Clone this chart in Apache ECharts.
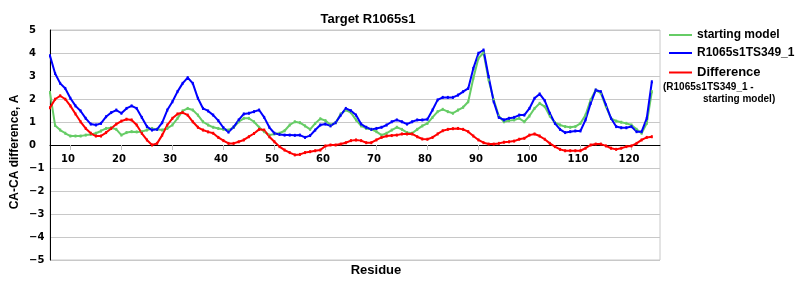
<!DOCTYPE html>
<html>
<head>
<meta charset="utf-8">
<script src="https://cdn.jsdelivr.net/npm/echarts@6/dist/echarts.min.js"></script>
<style>html,body{margin:0;padding:0;background:#fff}#c{width:800px;height:300px}</style>
</head>
<body>
<div id="c"></div>
<script>
const residues = [6,7,8,9,10,11,12,13,14,15,16,17,18,19,20,21,22,23,24,25,26,27,28,29,30,31,32,33,34,35,36,37,38,39,40,41,42,43,44,45,46,47,48,49,50,51,52,53,54,55,56,57,58,59,60,61,62,63,64,65,66,67,68,69,70,71,72,73,74,75,76,77,78,79,80,81,82,83,84,85,86,87,88,89,90,91,92,93,94,95,96,97,98,99,100,101,102,103,104,105,106,107,108,109,110,111,112,113,114,115,116,117,118,119,120,121,122,123,124];

const startingModel = [
2.28,0.85,0.65,0.51,0.39,0.39,0.39,0.43,0.46,0.51,
0.61,0.72,0.75,0.68,0.43,0.54,0.58,0.57,0.58,0.65,
0.72,0.68,0.65,0.72,0.87,1.16,1.48,1.59,1.52,1.30,
1.01,0.87,0.77,0.72,0.68,0.65,0.77,1.01,1.16,1.16,
1.01,0.77,0.58,0.43,0.48,0.51,0.62,0.87,1.01,0.97,
0.83,0.68,0.94,1.14,1.06,0.87,0.97,1.35,1.52,1.41,
1.09,0.83,0.72,0.68,0.58,0.43,0.51,0.65,0.77,0.68,
0.54,0.51,0.68,0.83,0.94,1.20,1.45,1.55,1.45,1.38,
1.52,1.64,1.88,2.90,3.77,4.01,2.83,1.96,1.26,1.01,
1.06,1.09,1.16,1.01,1.26,1.59,1.81,1.67,1.26,0.97,
0.87,0.80,0.77,0.80,0.94,1.30,1.96,2.39,2.25,1.67,
1.16,1.04,0.99,0.94,0.87,0.68,0.51,0.94,2.32];

const model349 = [
3.88,3.11,2.68,2.46,2.03,1.70,1.48,1.16,0.91,0.87,
0.94,1.23,1.41,1.52,1.38,1.59,1.70,1.59,1.20,0.80,
0.65,0.68,0.97,1.52,1.88,2.32,2.68,2.93,2.68,2.03,
1.59,1.48,1.30,1.06,0.75,0.56,0.78,1.09,1.35,1.38,
1.45,1.52,1.20,0.77,0.51,0.46,0.43,0.43,0.42,0.43,
0.33,0.41,0.65,0.87,0.91,0.83,0.97,1.30,1.59,1.49,
1.30,0.91,0.77,0.68,0.72,0.77,0.87,1.01,1.09,1.01,
0.91,1.01,1.09,1.09,1.12,1.52,1.96,2.07,2.07,2.07,
2.17,2.32,2.46,3.33,3.99,4.13,2.97,1.88,1.20,1.09,
1.16,1.20,1.30,1.30,1.59,2.03,2.22,1.93,1.38,0.94,
0.68,0.54,0.58,0.61,0.61,1.09,1.81,2.39,2.32,1.74,
1.16,0.80,0.75,0.75,0.80,0.58,0.58,1.16,2.75];

const difference = [
1.62,1.99,2.14,1.99,1.70,1.35,1.01,0.72,0.51,0.39,
0.39,0.54,0.72,0.91,1.04,1.12,1.09,0.87,0.51,0.22,
0.00,0.07,0.43,0.87,1.16,1.35,1.41,1.30,1.01,0.77,
0.65,0.57,0.51,0.33,0.19,0.07,0.07,0.14,0.22,0.36,
0.50,0.68,0.65,0.36,0.14,-0.07,-0.22,-0.33,-0.43,-0.41,
-0.33,-0.29,-0.25,-0.22,-0.04,0.00,0.00,0.04,0.10,0.19,
0.22,0.19,0.10,0.10,0.22,0.33,0.39,0.41,0.43,0.48,
0.48,0.48,0.36,0.26,0.25,0.33,0.48,0.62,0.68,0.71,
0.72,0.68,0.58,0.39,0.22,0.10,0.04,0.04,0.07,0.12,
0.14,0.17,0.25,0.29,0.43,0.48,0.39,0.25,0.07,-0.07,
-0.19,-0.25,-0.25,-0.25,-0.25,-0.14,0.00,0.04,0.04,-0.04,
-0.14,-0.19,-0.14,-0.07,-0.04,0.07,0.22,0.33,0.36];

const xTicks = [10,20,30,40,50,60,70,80,90,100,110,120];
const seriesNames = ['starting model','R1065s1TS349_1','Difference'];
const seriesColors = ['#66cc66','#0000ff','#ff0000'];

const chart = echarts.init(document.getElementById('c'), null, {renderer:'canvas'});
const pairs = arr => residues.map((r,i)=>[r, arr[i]]);
const lineSeries = (name, color, data) => ({
  name, type:'line', data: pairs(data), color,
  symbol:'rect', symbolSize:[2,3], showSymbol:true, showAllSymbol:true,
  lineStyle:{color, width:2}, itemStyle:{color}, animation:false, z: 3
});
const legendText = {fontFamily:'Liberation Sans', fontWeight:'bold', fontSize:12, color:'#000'};
const mkLegend = (name, top, fs) => ({
  data:[{name, icon:'rect'}], orient:'vertical', left:669, top, itemWidth:23, itemHeight:2,
  itemGap:0, padding:0, textStyle:Object.assign({}, legendText, {fontSize:fs}), selectedMode:false
});

chart.setOption({
  backgroundColor:'#fff',
  animation:false,
  title:{text:'Target R1065s1', left:363, top:8, textAlign:'center',
    textStyle:{fontFamily:'Liberation Sans', fontWeight:'bold', fontSize:13, color:'#000'}},
  legend:[mkLegend(seriesNames[0],29,12), mkLegend(seriesNames[1],47,12), mkLegend(seriesNames[2],66,13)],
  grid:{left:50, right:140, top:30, bottom:40, show:true, borderColor:'#c8c8c8', borderWidth:1},
  xAxis:{type:'value', min:6, max:125.6, position:'bottom', offset:-115,
    axisLine:{onZero:false, lineStyle:{color:'#000', width:1}},
    axisTick:{show:true, customValues:xTicks, length:5, inside:false, lineStyle:{color:'#c0c0c0'}},
    axisLabel:{customValues:xTicks, margin:9, padding:[0,5,0,0], fontFamily:'DejaVu Sans', fontWeight:'bold', fontSize:10, color:'#000'},
    splitLine:{show:false}},
  yAxis:{type:'value', min:-5, max:5, interval:1,
    axisLine:{show:true, onZero:false, lineStyle:{color:'#000', width:1}},
    axisTick:{show:false},
    axisLabel:{align:'left', margin:21, fontFamily:'DejaVu Sans', fontWeight:'bold', fontSize:10, color:'#000',
      formatter: v => String(v).replace('-', '\u2212')},
    splitLine:{show:true, lineStyle:{color:'#c8c8c8', width:1}}},
  graphic:[
    {type:'text', x:15, y:152, rotation:Math.PI/2,
      style:{text:'CA-CA difference, A', textAlign:'center', textVerticalAlign:'middle',
        font:'bold 12px "Liberation Sans"', fill:'#000'}},
    {type:'text', x:376, y:270,
      style:{text:'Residue', textAlign:'center', textVerticalAlign:'middle',
        font:'bold 13px "Liberation Sans"', fill:'#000'}},
    {type:'text', x:663, y:87,
      style:{text:'(R1065s1TS349_1 -', textAlign:'left', textVerticalAlign:'middle',
        font:'bold 10px "Liberation Sans"', fill:'#000'}},
    {type:'text', x:703, y:99,
      style:{text:'starting model)', textAlign:'left', textVerticalAlign:'middle',
        font:'bold 10px "Liberation Sans"', fill:'#000'}}
  ],
  series:[
    lineSeries(seriesNames[0], seriesColors[0], startingModel),
    lineSeries(seriesNames[1], seriesColors[1], model349),
    lineSeries(seriesNames[2], seriesColors[2], difference)
  ]
});
</script>
</body>
</html>
